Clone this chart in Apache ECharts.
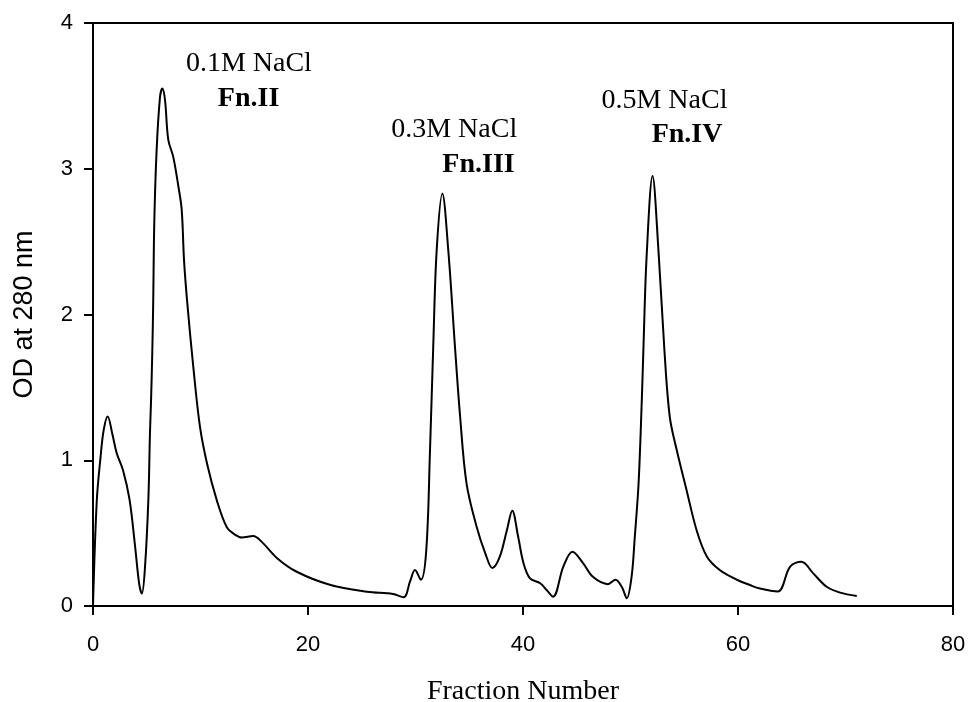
<!DOCTYPE html>
<html>
<head>
<meta charset="utf-8">
<style>
  html, body { margin: 0; padding: 0; background: #ffffff; }
  #chart { width: 969px; height: 702px; }
</style>
<script src="https://cdn.jsdelivr.net/npm/echarts@6/dist/echarts.min.js"></script>
</head>
<body>
<div id="chart"></div>
<script>
// Elution profile: fraction number vs. absorbance at 280 nm
const fractions = [
  0, 0.35, 0.7, 1.0, 1.37, 1.8, 2.2, 2.8, 3.4, 3.9, 4.3, 4.55, 4.84, 5.15, 5.3, 5.4, 5.52,
  5.6, 5.7, 5.92, 6.23, 6.45, 6.7, 7.0, 7.47, 7.94, 8.25, 8.47, 8.77, 9.33, 9.95, 10.6,
  11.5, 12.45, 13.2, 13.85, 14.9, 15.7, 17.1, 18.95, 22.1, 25.5, 27.9, 28.9, 29.5, 29.95,
  30.5, 31.0, 31.35, 31.65, 31.97, 32.5, 33.05, 33.67, 34.15, 34.75, 35.7, 36.5, 37.15,
  37.85, 38.5, 39.0, 39.55, 40.05, 40.65, 41.6, 42.2, 42.8, 43.75, 44.6, 45.6, 46.5, 47.9,
  48.6, 49.2, 49.65, 50.1, 50.4, 50.75, 51.05, 51.2, 51.5, 52.05, 52.6, 53.15, 53.65, 54.3,
  55.2, 56.15, 57.1, 58.3, 59.9, 61.1, 62.05, 63.7, 64.85, 65.9, 67.0, 68.25, 69.5, 71.05
];
const od280 = [
  0.0, 0.72, 1.02, 1.21, 1.30, 1.18, 1.05, 0.93, 0.73, 0.42, 0.15, 0.085, 0.27, 0.73, 1.19, 1.41, 1.76,
  2.08, 2.63, 3.13, 3.49, 3.55, 3.47, 3.20, 3.08, 2.88, 2.72, 2.37, 2.08, 1.64, 1.23, 0.98,
  0.73, 0.54, 0.49, 0.47, 0.48, 0.44, 0.33, 0.235, 0.144, 0.098, 0.082, 0.06, 0.17, 0.247,
  0.18, 0.38, 1.07, 1.78, 2.44, 2.83, 2.44, 1.78, 1.30, 0.84, 0.54, 0.36, 0.26,
  0.34, 0.52, 0.654, 0.475, 0.293, 0.19, 0.156, 0.11, 0.064, 0.27, 0.373, 0.293, 0.20, 0.15,
  0.18, 0.13, 0.053, 0.2, 0.475, 0.84, 1.41, 1.76, 2.40, 2.95, 2.44, 1.76, 1.30, 1.07,
  0.80, 0.52, 0.34, 0.247, 0.18, 0.144, 0.12, 0.10, 0.27, 0.304, 0.224, 0.132, 0.092, 0.069
];

// Axis ticks
const xTicks = [0, 20, 40, 60, 80];
const yTicks = [0, 1, 2, 3, 4];

// Peak annotations: salt step and fraction name, anchored in data coordinates
const saltLabels = ['0.1M NaCl', '0.3M NaCl', '0.5M NaCl'];
const saltPos = [[14.5, 3.72], [33.6, 3.27], [53.16, 3.47]];
const fnLabels = ['Fn.II', 'Fn.III', 'Fn.IV'];
const fnPos = [[14.47, 3.48], [35.86, 3.03], [55.26, 3.235]];

const SANS = '"Liberation Sans", Arial, sans-serif';
const SERIF = '"Liberation Serif", "Times New Roman", serif';

const chart = echarts.init(document.getElementById('chart'), null, { renderer: 'canvas' });

const option = {
  backgroundColor: '#ffffff',
  animation: false,
  grid: {
    left: 93, right: 16, top: 23, bottom: 96,
    containLabel: false,
    outerBoundsMode: 'none',
    show: true, borderColor: '#000', borderWidth: 2, backgroundColor: 'transparent'
  },
  xAxis: {
    type: 'value',
    min: xTicks[0], max: xTicks[xTicks.length - 1], interval: 20,
    name: 'Fraction Number',
    nameLocation: 'middle',
    nameGap: 72,
    nameTextStyle: { fontFamily: SERIF, fontSize: 28, color: '#000' },
    axisLine: { show: true, onZero: false, lineStyle: { color: '#000', width: 2 } },
    axisTick: { show: true, inside: false, length: 9, lineStyle: { color: '#000', width: 2 } },
    axisLabel: { color: '#000', fontFamily: SANS, fontSize: 22, margin: 28 },
    splitLine: { show: false }
  },
  yAxis: {
    type: 'value',
    min: yTicks[0], max: yTicks[yTicks.length - 1], interval: 1,
    name: 'OD at 280 nm',
    nameLocation: 'middle',
    nameGap: 55,
    nameRotate: 90,
    nameTextStyle: { fontFamily: SANS, fontSize: 27, color: '#000' },
    axisLine: { show: true, onZero: false, lineStyle: { color: '#000', width: 2 } },
    axisTick: { show: true, inside: false, length: 9, lineStyle: { color: '#000', width: 2 } },
    axisLabel: { color: '#000', fontFamily: SANS, fontSize: 22, margin: 20 },
    splitLine: { show: false }
  },
  series: [{
    type: 'line',
    data: fractions.map((f, i) => [f, od280[i]]),
    showSymbol: false,
    smooth: 0.35,
    lineStyle: { color: '#000', width: 2 },
    silent: true
  }]
};

chart.setOption(option);

// Place the peak annotations at their data positions
function annotations() {
  const els = [];
  saltLabels.forEach((t, i) => {
    const p = chart.convertToPixel({ gridIndex: 0 }, saltPos[i]);
    els.push({
      type: 'text', x: p[0], y: p[1], silent: true,
      style: { text: t, font: '28px ' + SERIF, fill: '#000', align: 'center', verticalAlign: 'middle' }
    });
  });
  fnLabels.forEach((t, i) => {
    const p = chart.convertToPixel({ gridIndex: 0 }, fnPos[i]);
    els.push({
      type: 'text', x: p[0], y: p[1], silent: true,
      style: { text: t, font: 'bold 28px ' + SERIF, fill: '#000', align: 'center', verticalAlign: 'middle' }
    });
  });
  return els;
}
chart.setOption({ graphic: annotations() });
</script>
</body>
</html>
